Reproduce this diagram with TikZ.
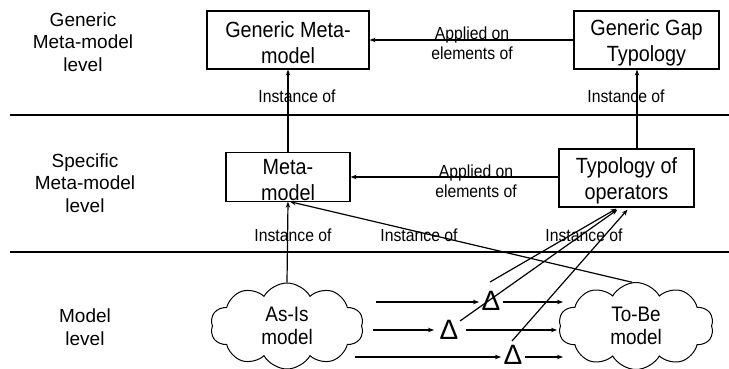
\documentclass[tikz,border=0pt]{standalone}
\usepackage{fontspec}
\setmainfont{Liberation Sans}
\newfontfamily\nfont[FakeStretch=0.9]{Liberation Sans}
\usetikzlibrary{shapes.symbols,arrows.meta,calc}
\newcommand{\topstrut}{\rule{0pt}{22pt}}
\begin{document}
\begin{tikzpicture}[x=1pt,y=-1pt,
  line width=1.2pt,
  arr/.style={-{Stealth[length=6pt,width=4.5pt]}},
  box/.style={draw,line width=1.2pt,inner sep=0pt,align=center,font=\nfont\fontsize{22}{26}\selectfont},
  lvl/.style={align=center,font=\fontsize{19}{22.5}\selectfont},
  lbl/.style={align=center,inner sep=0pt,font=\nfont\fontsize{17.5}{20}\selectfont},
  cloudnode/.style={draw,cloud,cloud puffs=10,cloud puff arc=120,line width=1pt,align=center,inner sep=0pt,font=\nfont\fontsize{21}{23}\selectfont},
  delta/.style={inner sep=2pt,font=\fontsize{28}{28}\selectfont}
]
\useasboundingbox (0,0) rectangle (729,369);
% separators
\coordinate (s1a) at (10,115); \coordinate (s1b) at (729,115);
\coordinate (s2a) at (10,252); \coordinate (s2b) at (729,252);
\draw (s1a) -- (s1b);
\draw (s2a) -- (s2b);
% level labels
\node[lvl] (L1) at (83,42) {Generic\\Meta-model\\level};
\node[lvl] (L2) at (85,183) {Specific\\Meta-model\\level};
\node[lvl] (L3) at (85,327) {Model\\level};
% boxes
\node[box,minimum width=162pt,minimum height=58pt] (GMM) at (288,40) {\topstrut Generic Meta-\\model};
\node[box,minimum width=145pt,minimum height=58pt] (GGT) at (646.5,40) {\topstrut Generic Gap\\Typology};
\node[box,minimum width=124pt,minimum height=48pt] (MM) at (288,177) {\topstrut Meta-\\model};
\node[box,minimum width=135pt,minimum height=58pt] (TO) at (626.5,178) {\topstrut Typology of\\operators};
% clouds
\node[cloudnode,minimum width=153pt,minimum height=86pt] (AsIs) at (287,326) {As-Is\\model};
\node[cloudnode,minimum width=155pt,minimum height=87pt] (ToBe) at (636,326) {To-Be\\model};
% deltas
\node[delta] (D1) at (491,301) {Δ};
\node[delta] (D2) at (449,330) {Δ};
\node[delta] (D3) at (513,355) {Δ};
% top level arrows
\draw[arr] (GGT) -- (GMM);
\node[lbl] (AP1) at (472,43) {Applied on\\elements of};
\draw[arr] (MM.north) -- (GMM.south);
\node[lbl] (I1) at (297,96) {Instance of};
\coordinate (gx) at (637,0);
\draw[arr] (TO.north -| gx) -- (GGT.south -| gx);
\node[lbl] (I2) at (626,96) {Instance of};
% middle
\draw[arr] (TO.west |- MM.east) -- (MM.east);
\node[lbl] (AP2) at (476,181) {Applied on\\elements of};
\draw[arr] (AsIs.north) -- (MM.south);
\node[lbl] (I3) at (293,235) {Instance of};
\draw[arr] (ToBe.95) -- ([xshift=2pt]MM.south);
\node[lbl] (I4) at (419,235) {Instance of};
\node[lbl] (I5) at (584,235) {Instance of};
% rows
\coordinate (r1a) at (376,302); \coordinate (r1b) at (563,302);
\coordinate (r2a) at (373,330); \coordinate (r2b) at (557,330);
\coordinate (r3a) at (355,357); \coordinate (r3b) at (563,357);
\draw[arr] (r1a) -- (D1.west |- r1a);
\draw[arr] (D1.east |- r1a) -- (r1b);
\draw[arr] (r2a) -- ([xshift=-3pt]D2.west |- r2a);
\draw[arr] ([xshift=5pt]D2.east |- r2a) -- (r2b);
\draw[arr] (r3a) -- (D3.west |- r3a);
\draw[arr] (D3.east |- r3a) -- (r3b);
% delta to typology
\coordinate (t1) at (490,282);
\coordinate (t2) at (460,321);
\coordinate (t3) at (512,341);
\draw[arr] (t1) -- ([xshift=-10pt,yshift=-1pt]TO.south);
\draw[arr] (t2) -- ([xshift=-9pt,yshift=-2pt]TO.south);
\draw[arr] (t3) -- ([xshift=1pt,yshift=-2pt]TO.south);
\end{tikzpicture}
\end{document}
